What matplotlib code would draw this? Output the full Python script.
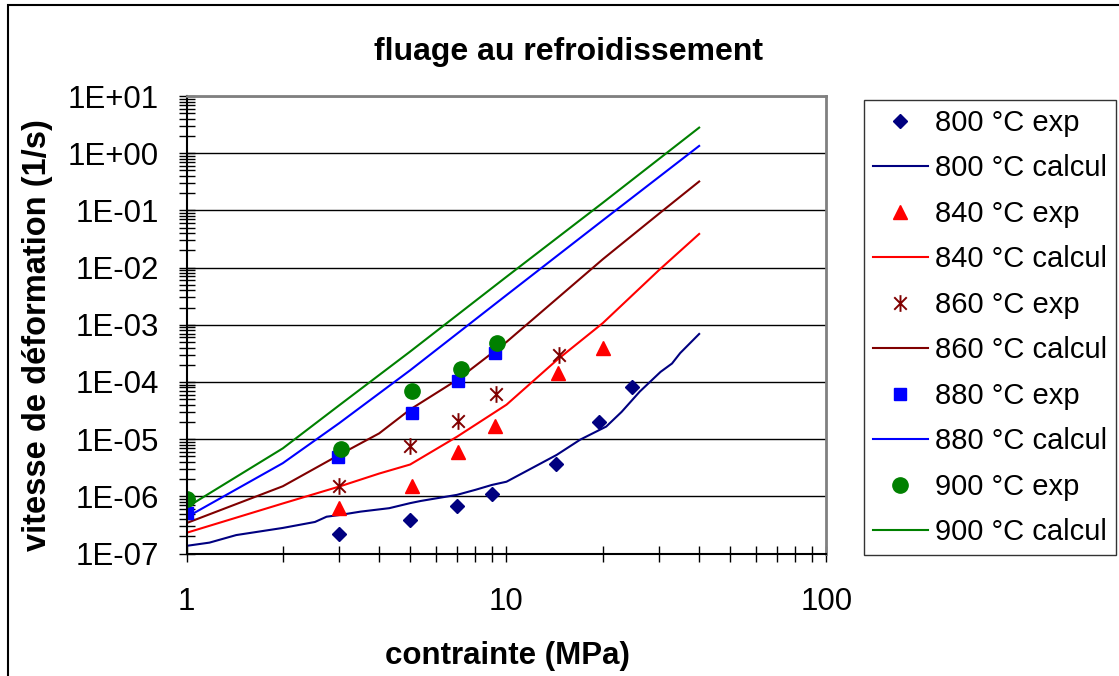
import numpy as np
import matplotlib
matplotlib.use("Agg")
import matplotlib.pyplot as plt
from matplotlib.ticker import LogLocator, FuncFormatter, NullFormatter
from matplotlib.patches import Rectangle
from matplotlib.path import Path

plt.rcParams['font.family'] = ['Liberation Sans', 'DejaVu Sans']

# experimental points (contrainte MPa, vitesse 1/s)
x_800_exp = [3, 5, 7, 9, 14.3, 19.4, 24.7]
y_800_exp = [2.2e-7, 3.9e-7, 6.8e-7, 1.1e-6, 3.7e-6, 2.0e-5, 8.0e-5]
x_840_exp = [3, 5.05, 7.05, 9.2, 14.5, 20]
y_840_exp = [6.2e-7, 1.5e-6, 5.9e-6, 1.7e-5, 1.45e-4, 3.9e-4]
x_860_exp = [3, 5, 7.05, 9.25, 14.6]
y_860_exp = [1.5e-6, 7.6e-6, 2.1e-5, 6.2e-5, 2.9e-4]
x_880_exp = [1, 2.97, 5.05, 7.05, 9.2]
y_880_exp = [5.1e-7, 4.9e-6, 2.9e-5, 1.05e-4, 3.2e-4]
x_900_exp = [1, 3.03, 5.05, 7.2, 9.35]
y_900_exp = [8.9e-7, 6.6e-6, 7.0e-5, 1.7e-4, 4.8e-4]

# calculated curves
x_800_calc = [1, 1.18, 1.43, 2, 2.52, 2.74, 3, 3.5, 4.3, 5, 5.4, 7, 8, 9, 10,
              14.35, 17, 20.5, 22.9, 26.1, 30.3, 32.9, 34.9, 40]
y_800_calc = [1.36e-7, 1.55e-7, 2.1e-7, 2.8e-7, 3.56e-7, 4.4e-7, 4.7e-7, 5.4e-7,
              6.2e-7, 7.6e-7, 8.3e-7, 1.06e-6, 1.3e-6, 1.58e-6, 1.8e-6,
              5.3e-6, 9.8e-6, 1.66e-5, 3.0e-5, 6.8e-5, 1.5e-4, 2.1e-4, 3.2e-4, 6.9e-4]
x_840_calc = [1, 2, 3, 4, 5, 7, 10, 14.35, 20, 30, 40]
y_840_calc = [2.3e-7, 7.5e-7, 1.48e-6, 2.5e-6, 3.6e-6, 1.1e-5, 4.0e-5, 2.4e-4,
              1.07e-3, 9.1e-3, 3.87e-2]
x_860_calc = [1, 2, 3, 4, 5, 7, 10, 20, 30, 40]
y_860_calc = [3.4e-7, 1.5e-6, 5.3e-6, 1.26e-5, 3.3e-5, 1.08e-4, 5.0e-4, 1.4e-2,
              8.8e-2, 0.32]
x_880_calc = [1, 2, 3, 5, 10, 20, 40]
y_880_calc = [4.3e-7, 3.8e-6, 1.9e-5, 1.6e-4, 3.3e-3, 6.7e-2, 1.34]
x_900_calc = [1, 2, 3, 5, 10, 20, 40]
y_900_calc = [6.4e-7, 6.9e-6, 3.9e-5, 3.4e-4, 6.9e-3, 0.136, 2.8]

# excel-style star: an X with a vertical bar
star = Path([(0, -1), (0, 1), (-0.75, -0.75), (0.75, 0.75), (-0.75, 0.75), (0.75, -0.75)],
            [Path.MOVETO, Path.LINETO] * 3)

W, H = 1119, 676
fig = plt.figure(figsize=(W / 100, H / 100), dpi=100)

# outer chart frame
fig.patches.append(Rectangle((8 / W, -0.1), 1.2, 1.1 - 5 / H, transform=fig.transFigure,
                             fill=False, edgecolor='black', linewidth=1.5))

ax = fig.add_axes([186.5 / W, 1 - 553.5 / H, 640 / W, 457.5 / H])
ax.set_xscale('log')
ax.set_yscale('log')
ax.set_xlim(1, 100)
ax.set_ylim(1e-7, 10)

ax.plot(x_800_exp, y_800_exp, ls='none', marker='D', ms=7, color='#000080', label='800 °C exp')
ax.plot(x_800_calc, y_800_calc, color='#000080', lw=1.5, label='800 °C calcul')
ax.plot(x_840_exp, y_840_exp, ls='none', marker='^', ms=10, color='#FF0000', label='840 °C exp')
ax.plot(x_840_calc, y_840_calc, color='#FF0000', lw=1.5, label='840 °C calcul')
ax.plot(x_860_exp, y_860_exp, ls='none', marker=star, ms=12, mew=1.4,
        color='#800000', label='860 °C exp')
ax.plot(x_860_calc, y_860_calc, color='#800000', lw=1.5, label='860 °C calcul')
ax.plot(x_880_exp, y_880_exp, ls='none', marker='s', ms=8, color='#0000FF', label='880 °C exp')
ax.plot(x_880_calc, y_880_calc, color='#0000FF', lw=1.5, label='880 °C calcul')
ax.plot(x_900_exp, y_900_exp, ls='none', marker='o', ms=11, color='#008000', label='900 °C exp')
ax.plot(x_900_calc, y_900_calc, color='#008000', lw=1.5, label='900 °C calcul')

for a in (ax.xaxis, ax.yaxis):
    a.set_major_locator(LogLocator(base=10, numticks=20))
    a.set_minor_locator(LogLocator(base=10, subs=np.arange(2, 10), numticks=20))
    a.set_minor_formatter(NullFormatter())
ax.yaxis.set_major_formatter(FuncFormatter(lambda v, p: f"{v:.0E}"))
ax.xaxis.set_major_formatter(FuncFormatter(lambda v, p: f"{v:g}"))

ax.grid(True, which='major', axis='y', color='black', lw=1)
ax.tick_params(which='both', direction='inout', length=12, width=1, color='black')
ax.tick_params(axis='x', which='both', labelsize=22.5, pad=18)
ax.tick_params(axis='y', which='both', labelsize=22.5, pad=14)

for s in ('left', 'bottom'):
    ax.spines[s].set_color('black')
    ax.spines[s].set_linewidth(1.5)
for s in ('top', 'right'):
    ax.spines[s].set_color('#808080')
    ax.spines[s].set_linewidth(2)

fig.text(568 / W, 1 - 60 / H, 'fluage au refroidissement', ha='center', va='baseline',
         fontsize=23, fontweight='bold')
fig.text(507 / W, 1 - 664 / H, 'contrainte (MPa)', ha='center', va='baseline',
         fontsize=22.5, fontweight='bold')
fig.text(38 / W, 1 - 335 / H, 'vitesse de déformation (1/s)', ha='center', va='center',
         rotation=90, fontsize=23.5, fontweight='bold')

leg = ax.legend(loc='upper left', bbox_to_anchor=(864 / W, 1 - 100 / H),
                bbox_transform=fig.transFigure, fontsize=21, frameon=True,
                fancybox=False, edgecolor='black', handlelength=1.9,
                handletextpad=0.25, labelspacing=0.6, borderpad=0.3,
                borderaxespad=0, numpoints=1)
leg.get_frame().set_linewidth(1)

fig.savefig('out.png', dpi=100)
